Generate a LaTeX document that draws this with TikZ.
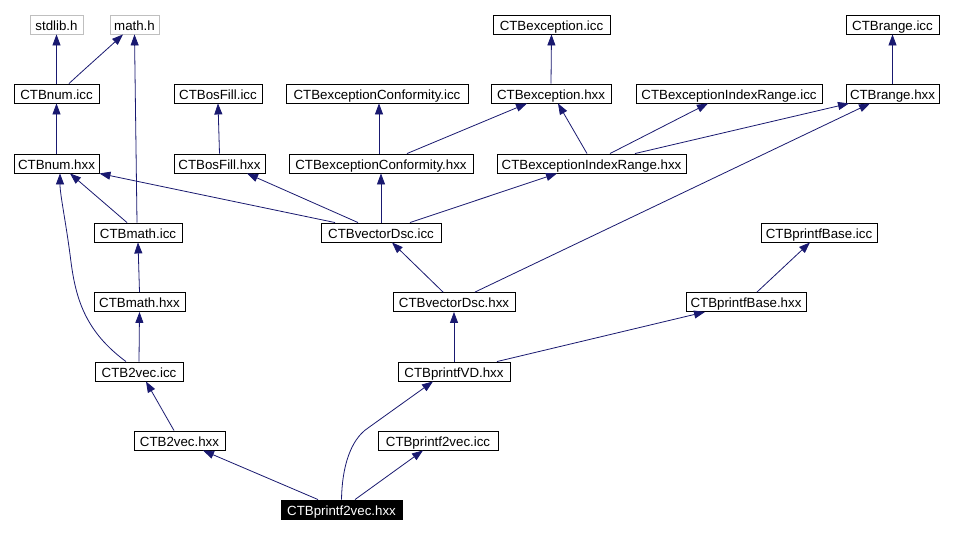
\documentclass[tikz,border=0pt]{standalone}
\usepackage{fontspec}
\setmainfont{Liberation Sans}
\usetikzlibrary{arrows.meta}
\definecolor{edgecol}{HTML}{191970}
\definecolor{graybox}{HTML}{BFBFBF}
\begin{document}
\begin{tikzpicture}[x={(1pt,0pt)},y={(0pt,-1pt)},
  box/.style={draw=black, line width=0.9pt, minimum height=19pt, inner sep=0pt, fill=white,
    text height=13pt, text depth=1pt,
    font=\fontsize{13.3}{15}\selectfont},
  sysbox/.style={box, draw=graybox},
  mainbox/.style={box, fill=black, text=white},
  e/.style={draw=edgecol, line width=0.8pt, -{Triangle[length=11pt,width=8pt]}}]
\useasboundingbox[fill=white] (0,0) rectangle (953,534);
% row 1
\node[sysbox, minimum width=53pt] (stdlib) at (56.5,24.5) {stdlib.h};
\node[sysbox, minimum width=49pt] (math) at (134.5,24.5) {math.h};
\node[box, minimum width=117pt] (excicc) at (551.5,24.5) {CTBexception.icc};
\node[box, minimum width=93pt] (rangeicc) at (892.5,24.5) {CTBrange.icc};
% row 2
\node[box, minimum width=85pt] (numicc) at (56.5,93.5) {CTBnum.icc};
\node[box, minimum width=88pt] (osficc) at (218,93.5) {CTBosFill.icc};
\node[box, minimum width=182pt] (ecficc) at (377,93.5) {CTBexceptionConformity.icc};
\node[box, minimum width=120pt] (exchxx) at (551,93.5) {CTBexception.hxx};
\node[box, minimum width=186pt] (eiricc) at (729,93.5) {CTBexceptionIndexRange.icc};
\node[box, minimum width=93pt] (rangehxx) at (892.5,93.5) {CTBrange.hxx};
% row 3
\node[box, minimum width=85pt] (numhxx) at (56.5,163.5) {CTBnum.hxx};
\node[box, minimum width=91pt] (osfhxx) at (219.5,163.5) {CTBosFill.hxx};
\node[box, minimum width=184pt] (ecfhxx) at (381,163.5) {CTBexceptionConformity.hxx};
\node[box, minimum width=189pt] (eirhxx) at (591.5,163.5) {CTBexceptionIndexRange.hxx};
% row 4
\node[box, minimum width=88pt] (mathicc) at (138,232.5) {CTBmath.icc};
\node[box, minimum width=120pt] (vdicc) at (381,232.5) {CTBvectorDsc.icc};
\node[box, minimum width=116pt] (pbicc) at (819,232.5) {CTBprintfBase.icc};
% row 5
\node[box, minimum width=91pt] (mathhxx) at (139.5,302) {CTBmath.hxx};
\node[box, minimum width=122pt] (vdhxx) at (454,302) {CTBvectorDsc.hxx};
\node[box, minimum width=120pt] (pbhxx) at (746,302) {CTBprintfBase.hxx};
% row 6
\node[box, minimum width=88pt] (b2vicc) at (139,371.5) {CTB2vec.icc};
\node[box, minimum width=112pt] (pvdhxx) at (454,371.5) {CTBprintfVD.hxx};
% row 7
\node[box, minimum width=91pt] (b2vhxx) at (179.5,440.5) {CTB2vec.hxx};
\node[box, minimum width=120pt] (p2vicc) at (438,440.5) {CTBprintf2vec.icc};
% row 8
\node[mainbox, minimum width=121pt] (p2vhxx) at (341.5,509.5) {CTBprintf2vec.hxx};

% edges
\draw[e] (numicc.north) -- (stdlib.south);
\draw[e] ([xshift=12.5pt]numicc.north) .. controls (88,66) and (104,52) .. ([xshift=-11.5pt]math.south);
\draw[e] ([xshift=-1pt]mathicc.north) -- (math.south);
\draw[e] (numhxx.north) -- (numicc.south);
\draw[e] (osfhxx.north) -- (osficc.south);
\draw[e] ([xshift=-2pt]ecfhxx.north) -- ([xshift=2pt]ecficc.south);
\draw[e] (exchxx.north) -- (excicc.south);
\draw[e] ([xshift=26pt]ecfhxx.north) -- ([xshift=-24pt]exchxx.south);
\draw[e] ([xshift=-4.5pt]eirhxx.north) -- ([xshift=7pt]exchxx.south);
\draw[e] ([xshift=18.5pt]eirhxx.north) -- ([xshift=-21pt]eiricc.south);
\draw[e] ([xshift=43.5pt]eirhxx.north) -- ([xshift=-43.5pt]rangehxx.south);
\draw[e] (rangehxx.north) -- (rangeicc.south);
\draw[e] ([xshift=21pt]vdhxx.north) -- ([xshift=-22.5pt]rangehxx.south);
\draw[e] ([xshift=-11pt]mathicc.north) -- ([xshift=13.5pt]numhxx.south);
\draw[e] ([xshift=-46pt]vdicc.north) -- (numhxx.south east);
\draw[e] ([xshift=-23pt]vdicc.north) -- ([xshift=27.5pt]osfhxx.south);
\draw[e] (vdicc.north) -- (ecfhxx.south);
\draw[e] ([xshift=29pt]vdicc.north) -- ([xshift=-34.5pt]eirhxx.south);
\draw[e] ([xshift=-13pt]b2vicc.north) .. controls (86,332) and (76,300) .. (71,262)
  .. controls (66,222) and (60,195) .. ([xshift=3.5pt]numhxx.south);
\draw[e] (mathhxx.north) -- (mathicc.south);
\draw[e] (b2vicc.north) -- (mathhxx.south);
\draw[e] ([xshift=-11pt]vdhxx.north) -- ([xshift=11pt]vdicc.south);
\draw[e] (pvdhxx.north) -- (vdhxx.south);
\draw[e] ([xshift=43pt]pvdhxx.north) -- ([xshift=-41pt]pbhxx.south);
\draw[e] ([xshift=11pt]pbhxx.north) -- ([xshift=-9pt]pbicc.south);
\draw[e] ([xshift=-5.5pt]b2vhxx.north) -- ([xshift=7pt]b2vicc.south);
\draw[e] ([xshift=-23.5pt]p2vhxx.north) -- ([xshift=23.5pt]b2vhxx.south);
\draw[e] (p2vhxx.north) .. controls (342,468) and (350,440) .. (368,428) -- ([xshift=-21pt]pvdhxx.south);
\draw[e] ([xshift=13.5pt]p2vhxx.north) -- ([xshift=-15pt]p2vicc.south);
\end{tikzpicture}
\end{document}
